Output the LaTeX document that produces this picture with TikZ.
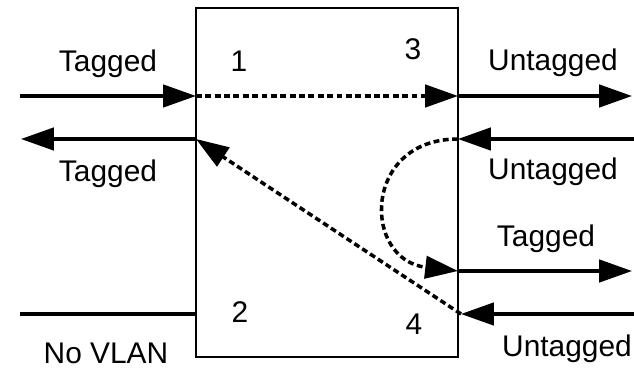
\documentclass[tikz,border=0pt]{standalone}
\usepackage{fontspec}
\setmainfont{Liberation Sans}
\usetikzlibrary{arrows.meta}

\tikzset{
  wire/.style={line width=3pt, -{Triangle[length=28pt,width=19pt]}},
  flow/.style={line width=3pt, dash pattern=on 5pt off 3pt, -{Triangle[length=28pt,width=19pt]}},
  lbl/.style={anchor=base, inner sep=0pt}
}

\begin{document}
\begin{tikzpicture}[x=0.03cm, y=-0.03cm, font=\fontsize{25.5}{28}\selectfont]
\useasboundingbox (0,0) rectangle (634,369);

% switch
\draw [line width=1.8pt] (196,8) rectangle (458,357);

% ports on the switch edges
\coordinate (p1in)  at (196,96);
\coordinate (p1out) at (196,139);
\coordinate (p2)    at (196,314);
\coordinate (p3out) at (458,96);
\coordinate (p3in)  at (458,139);
\coordinate (p4out) at (458,271);
\coordinate (p4in)  at (461,314);

% far ends of the links
\coordinate (l1in)  at (20,96);
\coordinate (l1out) at (21,139);
\coordinate (l2)    at (20,314);
\coordinate (r3out) at (632,96);
\coordinate (r3in)  at (634,139);
\coordinate (r4out) at (632,271);
\coordinate (r4in)  at (634,314);

% -------- links -----------
\draw [wire] (l1in) -- (p1in);
\draw [wire] (p1out) -- (l1out);
\draw [line width=3pt] (l2) -- (p2);
\draw [wire] (p3out) -- (r3out);
\draw [wire] (r3in) -- (p3in);
\draw [wire] (p4out) -- (r4out);
\draw [wire] (r4in) -- (p4in);

% -------- forwarding -----------
\draw [flow] (p1in) -- (p3out);
\draw [flow] (p3in) .. controls (362,139) and (362,260) .. (p4out);
\draw [flow] (p4in) -- (p1out);

% -------- labels -----------
\node [lbl] (n1) at (239,72) {1};
\node [lbl] (n2) at (240,323) {2};
\node [lbl] (n3) at (413,60) {3};
\node [lbl] (n4) at (414,335) {4};

\node [lbl] (tin1)  at (108,72)  {Tagged};
\node [lbl] (tout1) at (108,182) {Tagged};
\node [lbl] (nov2)  at (106,364) {No VLAN};
\node [lbl] (uout3) at (553,71)  {Untagged};
\node [lbl] (uin3)  at (553,180) {Untagged};
\node [lbl] (tout4) at (546,247) {Tagged};
\node [lbl] (uin4)  at (567,357) {Untagged};
\end{tikzpicture}
\end{document}
